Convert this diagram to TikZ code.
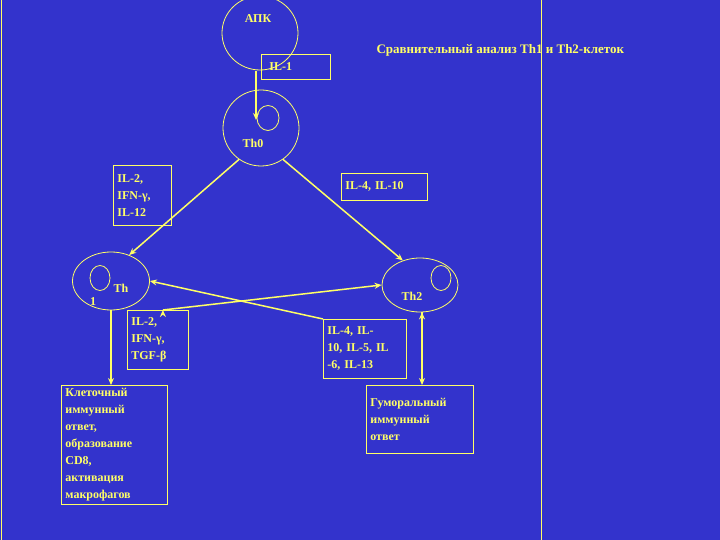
\documentclass[tikz,border=0pt]{standalone}
\usepackage{fontspec}
\setmainfont{Liberation Serif}
\usetikzlibrary{arrows.meta}
\definecolor{bg}{HTML}{3333CC}
\definecolor{yl}{HTML}{FFFF66}
\tikzset{
 cell/.style={draw=yl, line width=0.8pt, ellipse, inner sep=0pt},
 lbl/.style={text=yl, font=\fontsize{12}{17}\selectfont\bfseries, inner sep=0pt},
 box/.style={draw=yl, line width=0.8pt, anchor=north west, align=left, inner sep=4pt, text=yl, font=\fontsize{12}{17}\selectfont\bfseries},
 arr/.style={draw=yl, line width=1.5pt, -{Stealth[length=7pt,width=6pt]}},
}
\usetikzlibrary{shapes.geometric}
\begin{document}
\begin{tikzpicture}[x=1pt,y=-1pt]
\fill[bg] (0,0) rectangle (720,540);
\useasboundingbox (0,0) rectangle (720,540);
\draw[yl, line width=0.8pt] (1,0) -- (1,540);
\draw[yl, line width=0.8pt] (541,0) -- (541,540);
\node[text=yl, font=\fontsize{13}{15}\selectfont\bfseries, anchor=west] (title) at (373,50) {Сравнительный анализ Th1 и Th2-клеток};
% cells
\node[cell, minimum width=76pt, minimum height=74pt] (apk) at (260,33) {};
\node[lbl] (apkt) at (258,19) {АПК};
\node[cell, minimum width=76pt, minimum height=76pt] (th0) at (261,128) {};
\node[cell, minimum width=22pt, minimum height=25pt] (th0n) at (268,118) {};
\node[lbl] (th0t) at (253,143) {Th0};
\node[cell, minimum width=77pt, minimum height=58pt] (th1) at (111,281) {};
\node[cell, minimum width=20pt, minimum height=25pt] (th1n) at (100,278) {};
\node[lbl] (th1t) at (121,288) {Th};
\node[lbl] (th1u) at (93,302) {1};
\node[cell, minimum width=76pt, minimum height=54pt] (th2) at (420,285) {};
\node[cell, minimum width=20pt, minimum height=25pt] (th2n) at (441,278) {};
\node[lbl] (th2t) at (412,296) {Th2};
% boxes
\node[box, minimum width=69pt, minimum height=25pt, text width=61pt] (il1) at (261,54) {\hspace*{4pt}IL-1};
\node[box, minimum width=58pt, minimum height=60pt, text width=50pt] (b1) at (113,165) {IL-2,\\IFN-γ,\\IL-12};
\node[box, minimum width=86pt, minimum height=27pt, text width=78pt] (b2) at (341,173) {IL-4, IL-10};
\node[box, minimum width=61pt, minimum height=59pt, text width=53pt] (b3) at (127,310) {IL-2,\\IFN-γ,\\TGF-β};
\node[box, minimum width=83pt, minimum height=59pt, text width=75pt] (b4) at (323,319) {IL-4, IL-\\10, IL-5, IL\\-6, IL-13};
\node[box, minimum width=106pt, minimum height=117pt, text width=98pt, inner sep=3pt] (b5) at (61,385) {Клеточный\\иммунный\\ответ,\\образование\\CD8,\\активация\\макрофагов};
\node[box, minimum width=107pt, minimum height=68pt, text width=99pt, inner ysep=6pt, anchor=north west] (b6) at (366,385) {Гуморальный\\иммунный\\ответ\\[-17pt]\mbox{}};
% connectors
\coordinate (c1) at (256,71);
\coordinate (c2) at (256,120);
\draw[arr] (c1) -- (c2);
\draw[arr] (th0.235) -- (th1.55);
\draw[arr] (th0.305) -- (th2.125);
\draw[arr] (b4.north west) -- (th1.east);
\draw[arr] (b3.north) ++(5,0) coordinate (c3);
\draw[arr] (c3) -- (th2.west);
\draw[arr] (th1.south) -- (b5.north -| th1.south);
\draw[arr] (th2.south) ++(2,0) coordinate (c4);
\draw[arr] (c4) -- (b6.north -| c4);
\end{tikzpicture}
\end{document}
